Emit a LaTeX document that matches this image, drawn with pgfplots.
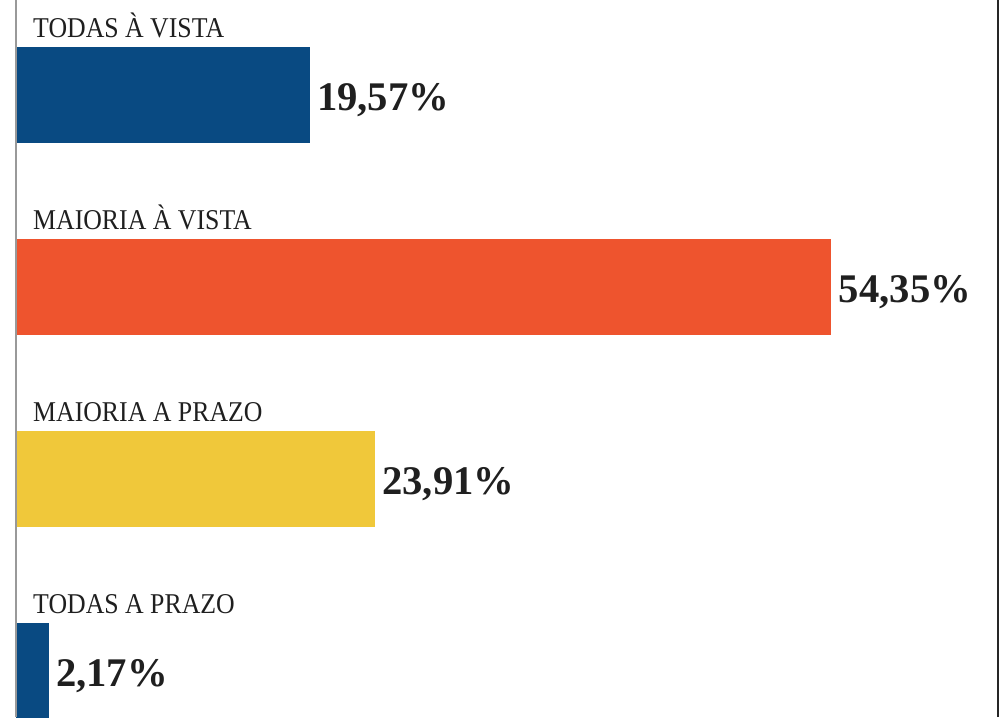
\documentclass[border=0pt]{standalone}
\usepackage{pgfplots}
\pgfplotsset{compat=1.18}
\usepackage{fontspec}
\setmainfont{Liberation Serif}
\newfontfamily\labfont[FakeStretch=0.9]{Liberation Serif}
\definecolor{cblue}{RGB}{9,74,130}
\definecolor{corange}{RGB}{238,84,46}
\definecolor{cyellow}{RGB}{240,200,58}
\tikzset{catlab/.style={anchor=base west, inner sep=0pt, font=\labfont\fontsize{21.5}{22}\selectfont, text=black!88}}
\begin{document}
\begin{tikzpicture}
\begin{axis}[
  at={(0,0)}, anchor=south west,
  scale only axis, width=750pt, height=537.75pt,
  xbar, bar width=0.5, bar shift=0pt,
  axis lines=none, xtick=\empty, ytick=\empty,
  xmin=-1.0667, xmax=65.6,
  y dir=reverse, ymin=-0.4948, ymax=3.2396,
  point meta=x,
  nodes near coords={\pgfmathprintnumber[fixed,fixed zerofill,precision=2,use comma,assume math mode=true]{\pgfplotspointmeta}\%},
  every node near coord/.append style={anchor=base west, inner sep=0pt, xshift=5.5pt, yshift=-11.5pt, font=\fontsize{30.5}{31}\selectfont\bfseries, text=black!88},
  clip=true,
  clip bounding box=upper bound,
]
\path (rel axis cs:0,0) rectangle (rel axis cs:1,1);
\addplot[fill=cblue, draw=none] coordinates {(19.57,0)};
\addplot[fill=corange, draw=none] coordinates {(54.35,1)};
\addplot[fill=cyellow, draw=none] coordinates {(23.91,2)};
\addplot[fill=cblue, draw=none] coordinates {(2.17,3)};
\draw[black!40, line width=1.2pt] (axis cs:0,-0.4948) -- (axis cs:0,3.2396);
\draw[black!85, line width=2.2pt] (rel axis cs:0.998,0) -- (rel axis cs:0.998,1);
\node[catlab] at (axis cs:1.13,-0.297) {TODAS À VISTA};
\node[catlab] at (axis cs:1.13,0.703) {MAIORIA À VISTA};
\node[catlab] at (axis cs:1.13,1.703) {MAIORIA A PRAZO};
\node[catlab] at (axis cs:1.13,2.703) {TODAS A PRAZO};
\end{axis}
\end{tikzpicture}
\end{document}
